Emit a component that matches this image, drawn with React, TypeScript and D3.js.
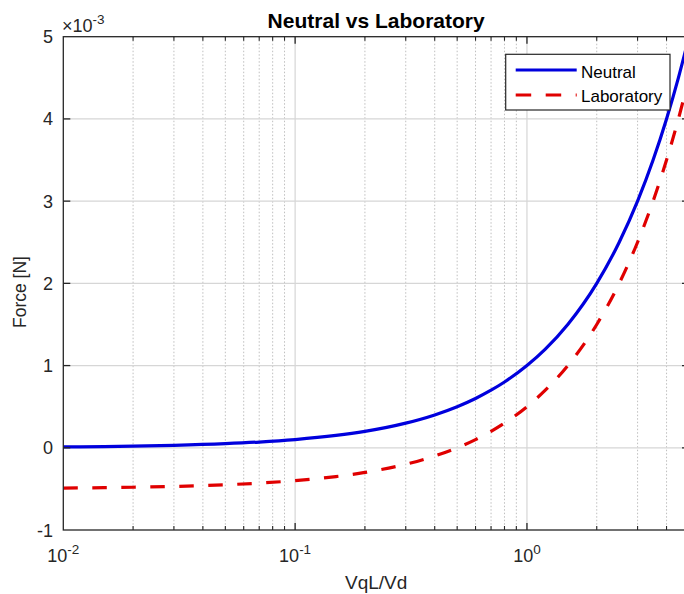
import React from "react";
import * as d3 from "d3";

const xValues = [0.01, 0.015, 0.02, 0.03, 0.05, 0.07, 0.1, 0.15, 0.2, 0.3, 0.4, 0.5, 0.6, 0.7, 0.8, 1, 1.2, 1.5, 2, 2.5, 3, 3.5, 4, 4.5, 5];
const neutral = [0.01, 0.015, 0.02, 0.03, 0.05, 0.07, 0.1, 0.15, 0.2, 0.3, 0.4, 0.5, 0.6, 0.7, 0.8, 1.0, 1.2, 1.5, 2.0, 2.5, 3.0, 3.5, 4.0, 4.5, 5.0];
const laboratory = [-0.49, -0.485, -0.48, -0.47, -0.45, -0.43, -0.4, -0.35, -0.3, -0.2, -0.1, 0.0, 0.1, 0.2, 0.3, 0.5, 0.7, 1.0, 1.5, 2.0, 2.5, 3.0, 3.5, 4.0, 4.5];
const yTicks = [-1, 0, 1, 2, 3, 4, 5];
const xMajor = [0.01, 0.1, 1];
const xMajorExp = ["-2", "-1", "0"];
const xMinor = [0.02, 0.03, 0.04, 0.05, 0.06, 0.07, 0.08, 0.09, 0.2, 0.3, 0.4, 0.5, 0.6, 0.7, 0.8, 0.9, 2, 3, 4];

const FONT = "'Liberation Sans', Arial, Helvetica, sans-serif";
const AX = "#262626";
const BLUE = "#0000dd";
const RED = "#e00000";

export default function App() {
  const L = 63.3, R = 689, T = 36.7, B = 530;
  const x = d3.scaleLog().domain([0.01, 5]).range([L, R]);
  const y = d3.scaleLinear().domain([-1, 5]).range([B, T]);
  const line = d3
    .line<number>()
    .x((_, i) => x(xValues[i]))
    .y((d) => y(d))
    .curve(d3.curveMonotoneX);

  return (
    <svg
      width={684}
      height={594}
      style={{ position: "absolute", left: 0, top: 0, background: "#fff" }}
      fontFamily={FONT}
    >
      <defs>
        <clipPath id="plot">
          <rect x={L} y={T} width={R - L} height={B - T} />
        </clipPath>
      </defs>
      <rect x={0} y={0} width={684} height={594} fill="#fff" />
      {/* grid */}
      {xMinor.map((v) => (
        <line key={"mn" + v} x1={x(v)} x2={x(v)} y1={T} y2={B} stroke="#b8b8b8" strokeWidth={0.9} strokeDasharray="1.5 2" />
      ))}
      {xMajor.slice(1).map((v) => (
        <line key={"mj" + v} x1={x(v)} x2={x(v)} y1={T} y2={B} stroke="#d6d6d6" strokeWidth={1.2} />
      ))}
      {yTicks.slice(1, -1).map((v) => (
        <line key={"yg" + v} x1={L} x2={R} y1={y(v)} y2={y(v)} stroke="#d6d6d6" strokeWidth={1.2} />
      ))}
      {/* data */}
      <g clipPath="url(#plot)">
        <path d={line(neutral) || ""} fill="none" stroke={BLUE} strokeWidth={3.2} />
        <path d={line(laboratory) || ""} fill="none" stroke={RED} strokeWidth={3.2} strokeDasharray="14.5 14.5" />
      </g>
      {/* axes box */}
      <rect x={L} y={T} width={R - L} height={B - T} fill="none" stroke={AX} strokeWidth={1.3} />
      {/* ticks */}
      {xMajor.slice(1).map((v) => (
        <g key={"xt" + v}>
          <line x1={x(v)} x2={x(v)} y1={B} y2={B - 7} stroke={AX} strokeWidth={1.3} />
          <line x1={x(v)} x2={x(v)} y1={T} y2={T + 7} stroke={AX} strokeWidth={1.3} />
        </g>
      ))}
      {xMinor.map((v) => (
        <g key={"xm" + v}>
          <line x1={x(v)} x2={x(v)} y1={B} y2={B - 4} stroke={AX} strokeWidth={1.1} />
          <line x1={x(v)} x2={x(v)} y1={T} y2={T + 4} stroke={AX} strokeWidth={1.1} />
        </g>
      ))}
      {yTicks.slice(1, -1).map((v) => (
        <g key={"yt" + v}>
          <line x1={L} x2={L + 7} y1={y(v)} y2={y(v)} stroke={AX} strokeWidth={1.3} />
          <line x1={R} x2={R - 7} y1={y(v)} y2={y(v)} stroke={AX} strokeWidth={1.3} />
        </g>
      ))}
      {/* tick labels */}
      {yTicks.map((v) => (
        <text key={"yl" + v} x={53} y={y(v) + 6.5} textAnchor="end" fontSize={18} fill={AX}>
          {v}
        </text>
      ))}
      {xMajor.map((v, i) => (
        <text key={"xl" + v} x={x(v)} y={562} textAnchor="middle" fontSize={18} fill={AX}>
          10
          <tspan dy={-8} fontSize={13.5}>
            {xMajorExp[i]}
          </tspan>
        </text>
      ))}
      {/* exponent */}
      <text x={62} y={32} fontSize={18} fill={AX}>
        ×10
        <tspan dy={-8} fontSize={13.5}>
          -3
        </tspan>
      </text>
      {/* labels */}
      <text x={(L + R) / 2} y={28} textAnchor="middle" fontSize={21} fontWeight="bold" fill="#000">
        Neutral vs Laboratory
      </text>
      <text x={(L + R) / 2} y={589} textAnchor="middle" fontSize={19} fill={AX}>
        VqL/Vd
      </text>
      <text transform={`translate(26,292) rotate(-90)`} textAnchor="middle" fontSize={17.5} fill={AX}>
        Force [N]
      </text>
      {/* legend */}
      <rect x={505.7} y={54.3} width={164.3} height={55.7} fill="#fff" stroke={AX} strokeWidth={1.2} />
      <line x1={515.7} x2={576.7} y1={70} y2={70} stroke={BLUE} strokeWidth={3.2} />
      <line x1={515.7} x2={576.7} y1={95} y2={95} stroke={RED} strokeWidth={3.2} strokeDasharray="15.5 14.5" />
      <text x={581} y={77.5} fontSize={17} fill="#000">
        Neutral
      </text>
      <text x={581} y={101.5} fontSize={17} fill="#000">
        Laboratory
      </text>
    </svg>
  );
}
